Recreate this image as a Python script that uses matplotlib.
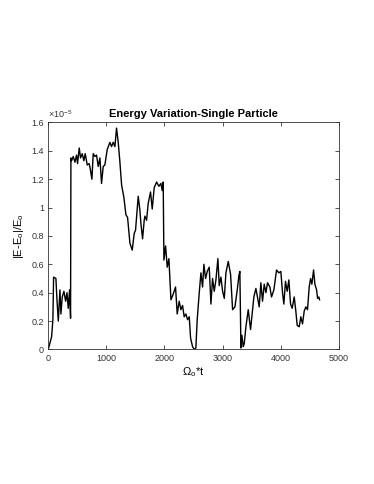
import numpy as np
import matplotlib
matplotlib.use("Agg")
import matplotlib.pyplot as plt
from matplotlib.ticker import FuncFormatter

# values, y in units of 1e-5
t = [0, 58, 80, 92, 132, 150, 173, 201, 218, 241, 270, 299, 322, 344, 367, 384,
     390, 401, 430, 459, 487, 504, 533, 556, 585, 613, 636, 671, 705, 728, 751,
     774, 803, 831, 860, 889, 917, 946, 974, 1015, 1061, 1089, 1118, 1147, 1175,
     1204, 1233, 1262, 1302, 1336, 1365, 1405, 1445, 1480, 1502, 1548, 1577,
     1594, 1623, 1651, 1663, 1692, 1720, 1760, 1789, 1823, 1864, 1904, 1938,
     1961, 1978, 1990, 2019, 2047, 2076, 2111, 2150, 2190, 2219, 2253, 2282,
     2311, 2339, 2368, 2397, 2426, 2449, 2483, 2512, 2540, 2563, 2598, 2627,
     2655, 2678, 2707, 2736, 2770, 2799, 2827, 2856, 2885, 2919, 2942, 2971,
     3000, 3029, 3057, 3097, 3137, 3172, 3212, 3252, 3280, 3297, 3315, 3332,
     3355, 3372, 3401, 3441, 3481, 3515, 3538, 3573, 3595, 3630, 3658, 3687,
     3716, 3745, 3773, 3813, 3842, 3882, 3928, 3968, 4002, 4031, 4054, 4082,
     4111, 4140, 4169, 4197, 4232, 4260, 4283, 4318, 4346, 4375, 4404, 4432,
     4461, 4490, 4513, 4536, 4565, 4588, 4617, 4634, 4657, 4668]
dE = [0.00, 0.09, 0.21, 0.51, 0.50, 0.35, 0.20, 0.42, 0.25, 0.37, 0.41, 0.34,
      0.40, 0.29, 0.42, 0.22, 1.35, 1.33, 1.36, 1.32, 1.37, 1.31, 1.42, 1.35,
      1.38, 1.33, 1.38, 1.30, 1.31, 1.26, 1.20, 1.38, 1.36, 1.37, 1.29, 1.35,
      1.17, 1.29, 1.30, 1.41, 1.46, 1.43, 1.46, 1.43, 1.56, 1.46, 1.32, 1.16,
      1.07, 0.95, 0.93, 0.75, 0.70, 0.82, 0.84, 1.08, 0.98, 0.89, 0.78, 0.91,
      0.94, 0.91, 1.03, 1.11, 0.99, 1.14, 1.18, 1.15, 1.17, 1.12, 1.18, 0.63,
      0.73, 0.58, 0.64, 0.35, 0.39, 0.44, 0.25, 0.34, 0.28, 0.31, 0.23, 0.25,
      0.21, 0.23, 0.08, 0.02, 0.00, 0.01, 0.21, 0.40, 0.54, 0.44, 0.60, 0.50,
      0.55, 0.58, 0.32, 0.50, 0.41, 0.49, 0.64, 0.45, 0.51, 0.41, 0.36, 0.54,
      0.62, 0.53, 0.28, 0.30, 0.42, 0.52, 0.55, 0.01, 0.10, 0.02, 0.04, 0.16,
      0.28, 0.14, 0.28, 0.37, 0.43, 0.38, 0.30, 0.47, 0.34, 0.46, 0.40, 0.47,
      0.44, 0.37, 0.42, 0.56, 0.54, 0.55, 0.40, 0.32, 0.48, 0.41, 0.49, 0.32,
      0.29, 0.37, 0.27, 0.17, 0.16, 0.23, 0.18, 0.27, 0.30, 0.28, 0.44, 0.50,
      0.46, 0.56, 0.46, 0.42, 0.36, 0.37, 0.35]

plt.rcParams['font.family'] = ['Liberation Sans', 'DejaVu Sans']
plt.rcParams['mathtext.default'] = 'regular'

fig = plt.figure(figsize=(3.74, 4.84), dpi=100)
ax = fig.add_axes([0.129, 0.278, 0.777, 0.469])

ax.plot(t, dE, color='black', linewidth=1.0)

ax.set_xlim(0, 5000)
ax.set_ylim(0, 1.6)
ax.set_xticks([0, 1000, 2000, 3000, 4000, 5000])
ax.set_yticks(np.arange(0, 1.61, 0.2))
ax.yaxis.set_major_formatter(FuncFormatter(lambda v, p: '%g' % round(v, 2)))
ax.text(0.0, 1.012, r'$\times$10$^{-5}$', transform=ax.transAxes,
        fontsize=6.5, ha='left', va='bottom', color='#333333')

ax.tick_params(direction='in', length=3, width=0.6, labelsize=6.5,
               top=True, right=True, pad=3, colors='#333333')
for s in ax.spines.values():
    s.set_linewidth(0.6)
    s.set_color('#333333')

ax.set_title('Energy Variation-Single Particle', fontsize=8, fontweight='bold', pad=4)
ax.set_xlabel(r'$\Omega_{o}$*t', fontsize=8, labelpad=2)
ax.set_ylabel(r'|E-E$_{o}$|/E$_{o}$', fontsize=8, labelpad=4)

fig.savefig('out.png', dpi=100)
